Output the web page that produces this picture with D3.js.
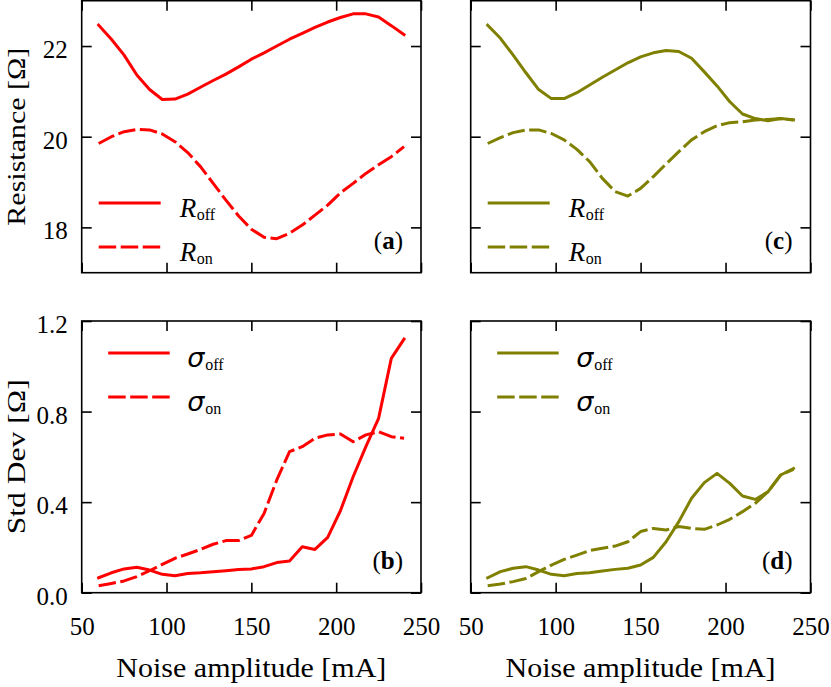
<!DOCTYPE html>
<html>
<head>
<meta charset="utf-8">
<script src="https://cdn.jsdelivr.net/npm/d3@7"></script>
<style>
  html, body { margin: 0; padding: 0; background: #fff; }
  svg { display: block; }
  .serif { font-family: "Liberation Serif", "DejaVu Serif", "Times New Roman", serif; }
</style>
</head>
<body>
<svg id="chart" width="831" height="687"></svg>
<script>
// ---------------- data ----------------
const noise = [60, 67.5, 75, 82.5, 90, 97.5, 105, 112.5, 120, 127.5, 135, 142.5, 150,
               157.5, 165, 172.5, 180, 187.5, 195, 202.5, 210, 217.5, 225, 232.5, 240];

// panel (a) resistance, red
const aRoff = [22.46, 22.15, 21.80, 21.36, 21.04, 20.82, 20.83, 20.94, 21.09, 21.24, 21.38, 21.54, 21.71,
               21.85, 22.00, 22.15, 22.28, 22.41, 22.53, 22.63, 22.71, 22.71, 22.64, 22.45, 22.25];
const aRon  = [19.85, 20.00, 20.11, 20.16, 20.15, 20.06, 19.89, 19.65, 19.34, 18.97, 18.60, 18.25, 17.96,
               17.78, 17.75, 17.87, 18.05, 18.27, 18.49, 18.76, 18.97, 19.19, 19.38, 19.56, 19.78];
// panel (c) resistance, olive
const cRoff = [22.46, 22.17, 21.80, 21.41, 21.04, 20.84, 20.84, 20.97, 21.14, 21.31, 21.47, 21.63, 21.76,
               21.85, 21.90, 21.88, 21.73, 21.43, 21.12, 20.77, 20.50, 20.40, 20.35, 20.40, 20.37];
const cRon  = [19.85, 19.98, 20.09, 20.15, 20.15, 20.07, 19.93, 19.72, 19.45, 19.08, 18.79, 18.69, 18.86,
               19.12, 19.40, 19.67, 19.93, 20.11, 20.24, 20.31, 20.33, 20.37, 20.38, 20.40, 20.37];
// panel (b) std dev, red
const bSoff = [0.066, 0.088, 0.105, 0.112, 0.100, 0.081, 0.075, 0.085, 0.088, 0.093, 0.097, 0.102, 0.105,
               0.115, 0.133, 0.140, 0.203, 0.191, 0.244, 0.362, 0.512, 0.645, 0.770, 1.035, 1.120];
const bSon  = [0.031, 0.041, 0.052, 0.071, 0.097, 0.125, 0.152, 0.171, 0.191, 0.214, 0.230, 0.230, 0.253,
               0.350, 0.498, 0.623, 0.645, 0.682, 0.697, 0.701, 0.667, 0.697, 0.711, 0.689, 0.682];
// panel (d) std dev, olive
const dSoff = [0.066, 0.093, 0.108, 0.115, 0.100, 0.081, 0.075, 0.085, 0.088, 0.096, 0.103, 0.108, 0.122,
               0.156, 0.225, 0.314, 0.417, 0.486, 0.527, 0.483, 0.427, 0.412, 0.446, 0.520, 0.549];
const dSon  = [0.031, 0.038, 0.049, 0.063, 0.093, 0.122, 0.147, 0.166, 0.186, 0.196, 0.206, 0.225, 0.270,
               0.284, 0.277, 0.292, 0.284, 0.280, 0.299, 0.324, 0.358, 0.395, 0.446, 0.520, 0.545];

const xTicks = [50, 100, 150, 200, 250];
const resTicks = [18, 20, 22];
const sdTicks = [0.0, 0.4, 0.8, 1.2];
const xDomain = [50, 250];
const resDomain = [17, 23];
const sdDomain = [0, 1.2];

const xLabel = "Noise amplitude [mA]";
const resLabel = "Resistance [Ω]";
const sdLabel = "Std Dev [Ω]";

const RED = "#ff0000", OLIVE = "#808000";

// ---------------- layout ----------------
const svg = d3.select("#chart");
const cols = [[81.7, 421], [470.7, 810.5]];
const rows = [[0.7, 272.7], [321, 592.7]];
const DASH = "17.5,4.5";

const panels = [
  { col: 0, row: 0, color: RED,   off: aRoff, on: aRon, kind: "R", tag: "a" },
  { col: 1, row: 0, color: OLIVE, off: cRoff, on: cRon, kind: "R", tag: "c" },
  { col: 0, row: 1, color: RED,   off: bSoff, on: bSon, kind: "S", tag: "b" },
  { col: 1, row: 1, color: OLIVE, off: dSoff, on: dSon, kind: "S", tag: "d" },
];

panels.forEach(p => {
  const [x0, x1] = cols[p.col];
  const [y0, y1] = rows[p.row];
  const x = d3.scaleLinear().domain(xDomain).range([x0, x1]);
  const y = d3.scaleLinear().domain(p.kind === "R" ? resDomain : sdDomain).range([y1, y0]);
  const yt = p.kind === "R" ? resTicks : sdTicks;
  const g = svg.append("g");

  // curves
  const line = d3.line().x((d, i) => x(noise[i])).y(d => y(d));
  g.append("path").datum(p.off).attr("d", line)
    .attr("fill", "none").attr("stroke", p.color).attr("stroke-width", 3)
    .attr("stroke-linecap", "square").attr("stroke-linejoin", "round");
  g.append("path").datum(p.on).attr("d", line)
    .attr("fill", "none").attr("stroke", p.color).attr("stroke-width", 3)
    .attr("stroke-dasharray", DASH).attr("stroke-linejoin", "round");

  // axes (inward ticks)
  const showX = p.row === 1, showY = p.col === 0;
  const ab = g.append("g").attr("transform", `translate(0,${y1})`)
    .call(d3.axisBottom(x).tickValues(xTicks).tickSizeInner(-10).tickSizeOuter(0)
      .tickFormat(showX ? d3.format("d") : () => ""));
  const at = g.append("g").attr("transform", `translate(0,${y0})`)
    .call(d3.axisTop(x).tickValues(xTicks).tickSizeInner(-10).tickSizeOuter(0).tickFormat(() => ""));
  const al = g.append("g").attr("transform", `translate(${x0},0)`)
    .call(d3.axisLeft(y).tickValues(yt).tickSizeInner(-10).tickSizeOuter(0)
      .tickFormat(showY ? (p.kind === "R" ? d3.format("d") : d3.format(".1f")) : () => ""));
  const ar = g.append("g").attr("transform", `translate(${x1},0)`)
    .call(d3.axisRight(y).tickValues(yt).tickSizeInner(-10).tickSizeOuter(0).tickFormat(() => ""));
  [ab, at, al, ar].forEach(a => {
    a.attr("font-family", null).attr("font-size", null);
    a.select(".domain").remove();
    a.selectAll(".tick line").attr("stroke", "#000").attr("stroke-width", 1.6);
    a.selectAll("text").attr("class", "serif").attr("font-size", 25).attr("fill", "#000");
  });
  ab.selectAll("text").attr("y", 42).attr("dy", 0);
  al.selectAll("text").attr("x", -14).attr("dy", 0).attr("y", 11.5);

  // frame
  g.append("rect").attr("x", x0).attr("y", y0).attr("width", x1 - x0).attr("height", y1 - y0)
    .attr("fill", "none").attr("stroke", "#000").attr("stroke-width", 1.6);

  // legend
  const L = p.kind === "R"
    ? { l0: 17, l1: 79, tx: 98, ys: [y0 + 202.3, y0 + 246.3], base: 14 }
    : { l0: 26.5, l1: 88, tx: 105.5, ys: [y0 + 32, y0 + 76], base: 13.5 };
  const subs = ["off", "on"];
  [false, true].forEach((dashed, k) => {
    const ly = L.ys[k];
    g.append("line").attr("x1", x0 + L.l0).attr("x2", x0 + L.l1).attr("y1", ly).attr("y2", ly)
      .attr("stroke", p.color).attr("stroke-width", 3)
      .attr("stroke-dasharray", dashed ? DASH : null);
    const t = g.append("text").attr("x", x0 + L.tx).attr("y", ly + L.base).attr("fill", "#000");
    if (p.kind === "R") {
      t.append("tspan").text("R").attr("class", "serif").attr("font-style", "italic").attr("font-size", 27);
      t.append("tspan").text(subs[k]).attr("x", x0 + L.tx + 17).attr("dy", 3)
        .attr("class", "serif").attr("font-size", 16);
    } else {
      t.append("tspan").text("σ").attr("font-family", "DejaVu Sans, sans-serif")
        .attr("font-style", "italic").attr("font-size", 27);
      t.append("tspan").text(subs[k]).attr("x", x0 + L.tx + 18).attr("dy", 3)
        .attr("class", "serif").attr("font-size", 16);
    }
  });

  // panel tag
  const tg = g.append("text").attr("x", x1 - 18).attr("y", y1 - 24).attr("text-anchor", "end")
    .attr("class", "serif").attr("font-size", 25).attr("fill", "#000");
  tg.append("tspan").text("(");
  tg.append("tspan").text(p.tag).attr("font-weight", "bold");
  tg.append("tspan").text(")");

  // axis labels
  if (showY) {
    g.append("text").attr("transform", "rotate(-90)")
      .attr("x", -(y0 + y1) / 2).attr("y", 25).attr("text-anchor", "middle")
      .attr("class", "serif").attr("font-size", 26).attr("fill", "#000")
      .attr("textLength", p.kind === "R" ? 178 : 155).attr("lengthAdjust", "spacingAndGlyphs")
      .text(p.kind === "R" ? resLabel : sdLabel);
  }
  if (showX) {
    g.append("text").attr("x", (x0 + x1) / 2).attr("y", 677).attr("text-anchor", "middle")
      .attr("class", "serif").attr("font-size", 28).attr("fill", "#000")
      .attr("textLength", 270).attr("lengthAdjust", "spacingAndGlyphs")
      .text(xLabel);
  }
});
</script>
</body>
</html>
